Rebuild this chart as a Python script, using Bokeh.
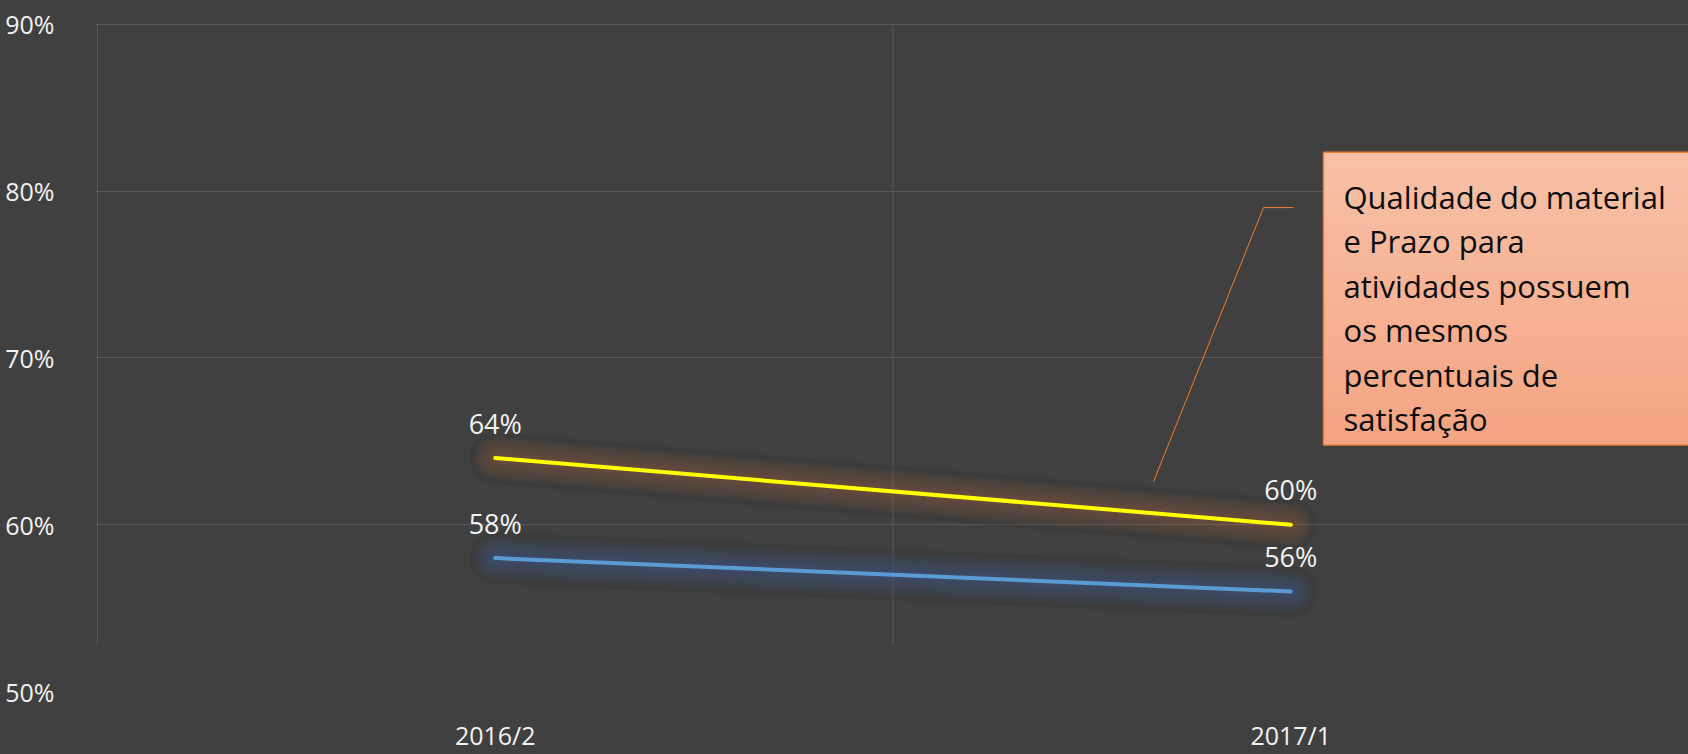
from bokeh.plotting import figure
from bokeh.models import Range1d, FixedTicker
from bokeh.core.properties import value
from bokeh.embed import file_html
from bokeh.resources import INLINE

# ---------------- data ----------------
periods = ["2016/2", "2017/1"]
serie_amarela = [64, 60]
serie_azul = [58, 56]
y_ticks = [50, 60, 70, 80, 90]
y_tick_labels = ["50%", "60%", "70%", "80%", "90%"]
callout_lines = [
    "Qualidade do material",
    "e Prazo para",
    "atividades possuem",
    "os mesmos",
    "percentuais de",
    "satisfação",
]

# ---------------- geometry helpers (page pixels -> data) ----------------
# page-pixel positions of the outer category boundaries and of the first/last y tick
GX_L, GX_R, GY_T, GY_B = 97, 1688, 24, 698
PAD = 2  # frame starts 2px before the first gridlines so they are not clipped
GX0, GX1 = -0.5, len(periods) - 0.5
GY0, GY1 = y_ticks[0], y_ticks[-1]
XPP = (GX1 - GX0) / (GX_R - GX_L)
YPP = (GY1 - GY0) / (GY_B - GY_T)


def px_x(px):
    return GX0 + (px - GX_L) * XPP


def px_y(py):
    return GY1 - (py - GY_T) * YPP


BG = "#404040"
GRID = "#595959"
FONT = value("Open Sans")

p = figure(
    width=1688, height=754,
    x_range=Range1d(px_x(GX_L - PAD), GX1), y_range=Range1d(GY0, px_y(GY_T - PAD)),
    output_backend="svg", toolbar_location=None,
    min_border_left=GX_L - PAD, min_border_right=0, min_border_top=GY_T - PAD,
    min_border_bottom=754 - GY_B,
)
p.styles = {"background-color": BG}
p.background_fill_color = BG
p.border_fill_color = BG
p.outline_line_color = None

# grids: horizontal via grid, vertical category boundaries as segments (fade out near bottom)
p.xgrid.visible = False
p.ygrid.ticker = FixedTicker(ticks=y_ticks[1:])
p.ygrid.grid_line_color = GRID
p.ygrid.grid_line_width = 1
bounds_x = [i - 0.5 for i in range(len(periods) + 1)]
p.segment(x0=bounds_x, y0=[px_y(650)] * len(bounds_x), x1=bounds_x, y1=[GY1] * len(bounds_x),
          line_color=GRID, line_width=1)

# axes
xs = list(range(len(periods)))
p.xaxis.ticker = FixedTicker(ticks=xs)
p.xaxis.major_label_overrides = {i: lab for i, lab in zip(xs, periods)}
p.yaxis.ticker = FixedTicker(ticks=y_ticks)
p.yaxis.major_label_overrides = {t: lab for t, lab in zip(y_ticks, y_tick_labels)}
p.axis.axis_line_color = None
p.axis.major_tick_line_color = None
p.axis.minor_tick_line_color = None
p.axis.major_label_text_font = "Open Sans"
p.axis.major_label_text_font_size = "25px"
p.axis.major_label_text_color = "#F2F2F2"
p.xaxis.major_label_standoff = 20
p.yaxis.major_label_standoff = 35

# glow + lines
for vals, color, glow in ((serie_azul, "#5B9BD5", "#3F86D6"), (serie_amarela, "#FFFF00", "#ED7D31")):
    p.line(xs, vals, line_color="#000000", line_alpha=0.05, line_width=52, line_cap="round")
    for w in range(44, 6, -4):
        p.line(xs, vals, line_color=glow, line_alpha=0.03, line_width=w, line_cap="round")
    p.line(xs, vals, line_color=color, line_width=4, line_cap="round", line_join="round")

# data labels
for vals in (serie_amarela, serie_azul):
    p.text(xs, vals, text=[f"{v}%" for v in vals], text_align="center", text_baseline="middle",
           y_offset=-35, text_font=FONT, text_font_size="27px", text_color="#F2F2F2")

# callout leader line
p.line([px_x(1153), px_x(1263), px_x(1293)], [px_y(486), px_y(209), px_y(209)],
       line_color="#ED7D31", line_width=1)

# callout box with vertical gradient (stacked bands, no seams)
box_l, box_r, box_t, box_b = px_x(1323), px_x(1720), px_y(153), px_y(449)
n = 48
c_top = (248, 193, 167)
c_bot = (244, 164, 130)
tops, cols = [], []
for i in range(n):
    f = i / (n - 1)
    tops.append(box_t + (box_b - box_t) * i / n)
    c = tuple(int(round(c_top[k] + (c_bot[k] - c_top[k]) * f)) for k in range(3))
    cols.append("#%02x%02x%02x" % c)
p.quad(left=[box_l] * n, right=[box_r] * n, top=tops, bottom=[box_b] * n,
       fill_color=cols, line_color=None)
p.quad(left=[box_l], right=[box_r], top=[box_t], bottom=[box_b], fill_color=None,
       line_color="#ED7D31", line_width=1.5)

p.text([px_x(1343)] * len(callout_lines), [px_y(198 + 45 * i) for i in range(len(callout_lines))],
       text=callout_lines, text_align="left", text_baseline="alphabetic",
       text_font=FONT, text_font_size="31px", text_color="#0D0D0D")

open("out.html", "w").write(file_html(p, INLINE))
